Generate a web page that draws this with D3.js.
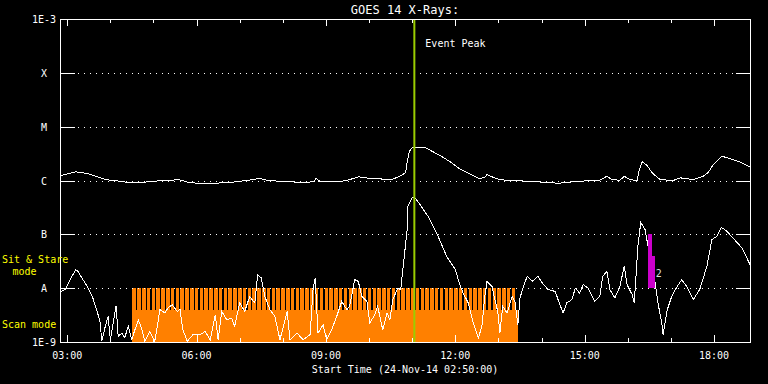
<!DOCTYPE html>
<html>
<head>
<meta charset="utf-8">
<script src="https://cdn.jsdelivr.net/npm/d3@7"></script>
<style>
  body { margin: 0; background: #000; }
  text { font-family: "DejaVu Sans Mono", monospace; fill: #fff; }
</style>
</head>
<body>
<svg id="chart"></svg>
<script>
// Chart size
const width = 768;
const height = 384;
const margin = { top: 19, right: 18, bottom: 42, left: 60 };

// GOES levels
const levelLabels = ["1E-9", "A", "B", "C", "M", "X", "1E-3"];
const levelValues = [1e-9, 1e-8, 1e-7, 1e-6, 1e-5, 1e-4, 1e-3];

// times are minutes after the start time (24-Nov-14 02:50:00)
const startTime = new Date(2014, 10, 24, 2, 50, 0);
const spanMinutes = 960;

// long channel (1-8 A), W/m^2
const longTimes = [0, 22, 39, 63, 83, 100, 121, 142, 166, 182, 217, 243, 267, 277, 288, 312, 333, 353, 356, 363,
  387, 403, 415, 434, 462, 473, 481, 483, 486, 490, 497, 508, 515, 529, 543, 556, 570, 584, 591, 594,
  601, 612, 630, 650, 666, 694, 723, 751, 761, 768, 779, 785, 793, 803, 806, 810, 817, 824, 835, 853,
  863, 881, 895, 902, 909, 921, 932, 946, 960];
const longFlux = [1.23e-6, 1.45e-6, 1.34e-6, 1.04e-6, 0.97e-6, 0.90e-6, 0.94e-6, 1.00e-6, 1.03e-6, 0.90e-6,
  0.89e-6, 0.94e-6, 1.03e-6, 1.10e-6, 1.01e-6, 0.95e-6, 0.93e-6, 0.94e-6, 1.10e-6, 0.94e-6,
  0.94e-6, 1.04e-6, 1.17e-6, 1.08e-6, 1.05e-6, 1.20e-6, 1.40e-6, 2.24e-6, 3.44e-6, 4.09e-6,
  4.14e-6, 4.14e-6, 3.64e-6, 2.90e-6, 2.22e-6, 1.64e-6, 1.33e-6, 1.08e-6, 1.15e-6, 1.29e-6,
  1.17e-6, 1.03e-6, 1.00e-6, 0.97e-6, 0.94e-6, 0.89e-6, 0.97e-6, 1.01e-6, 1.20e-6, 1.04e-6,
  1.01e-6, 1.20e-6, 1.04e-6, 1.00e-6, 1.60e-6, 2.22e-6, 1.89e-6, 1.38e-6, 1.04e-6, 1.00e-6,
  1.12e-6, 1.04e-6, 1.20e-6, 1.42e-6, 1.98e-6, 2.82e-6, 2.55e-6, 2.22e-6, 1.79e-6];

// short channel (0.5-4 A), W/m^2
const shortTimes = [1, 7, 14, 22, 25, 32, 39, 45, 51, 56, 58, 63, 67, 70, 78, 81, 86, 90, 95, 100,
  102, 109, 114, 118, 125, 132, 139, 146, 150, 156, 163, 167, 171, 177, 185, 195, 202, 209, 216, 220,
  225, 232, 239, 243, 250, 257, 264, 271, 275, 280, 285, 292, 299, 306, 316, 320, 330, 338, 348, 352,
  355, 359, 366, 371, 378, 385, 392, 399, 403, 410, 415, 420, 427, 431, 438, 442, 449, 455, 459, 463,
  470, 474, 477, 483, 484, 490, 494, 501, 512, 525, 538, 550, 557, 561, 568, 575, 582, 587, 591, 594,
  601, 605, 609, 612, 616, 622, 629, 633, 637, 640, 644, 650, 657, 665, 671, 679, 689, 693, 700, 705,
  712, 717, 723, 728, 735, 744, 751, 755, 761, 765, 772, 779, 785, 789, 796, 799, 804, 808, 814, 819,
  824, 828, 832, 838, 839, 845, 851, 856, 865, 872, 881, 890, 900, 907, 914, 920, 928, 936, 949, 960];
const shortFlux = [8.7e-9, 9.4e-9, 1.44e-8, 2.21e-8, 2.05e-8, 1.44e-8, 1.02e-8, 7.0e-9, 4.0e-9, 2.29e-9,
  1.03e-9, 1.95e-9, 2.99e-9, 1.10e-9, 4.73e-9, 1.27e-9, 1.47e-9, 1.20e-9, 1.95e-9, 1.10e-9,
  1.37e-9, 2.59e-9, 1.69e-9, 1.03e-9, 1.57e-9, 1.03e-9, 4.0e-9, 3.46e-9, 4.28e-9, 4.93e-9,
  3.71e-9, 4.0e-9, 1.69e-9, 1.03e-9, 1.37e-9, 1.37e-9, 1.57e-9, 1.10e-9, 3.21e-9, 1.10e-9,
  3.71e-9, 2.59e-9, 2.79e-9, 1.95e-9, 5.31e-9, 3.71e-9, 7.0e-9, 5.31e-9, 1.78e-8, 1.55e-8,
  7.0e-9, 4.0e-9, 2.99e-9, 1.10e-9, 3.71e-9, 1.10e-9, 1.47e-9, 1.10e-9, 1.37e-9, 9.4e-9,
  1.55e-8, 1.47e-9, 2.09e-9, 1.10e-9, 1.69e-9, 2.99e-9, 5.69e-9, 4.0e-9, 4.59e-9, 1.44e-8,
  1.34e-8, 7.0e-9, 5.69e-9, 2.26e-9, 3.21e-9, 4.59e-9, 1.69e-9, 3.46e-9, 2.59e-9, 6.11e-9,
  1.0e-8, 9.4e-9, 2.21e-8, 1.22e-7, 3.32e-7, 4.88e-7, 4.75e-7, 3.56e-7, 2.16e-7, 9.9e-8,
  3.90e-8, 2.21e-8, 1.08e-8, 8.1e-9, 5.31e-9, 2.26e-9, 1.19e-9, 1.95e-9, 7.0e-9, 1.34e-8,
  1.08e-8, 6.11e-9, 3.71e-9, 1.47e-9, 4.59e-9, 3.46e-9, 7.0e-9, 5.69e-9, 2.09e-9, 6.58e-9,
  1.0e-8, 1.66e-8, 1.34e-8, 1.66e-8, 1.25e-8, 9.4e-9, 8.7e-9, 6.11e-9, 3.46e-9, 5.31e-9,
  6.11e-9, 1.0e-8, 8.1e-9, 1.16e-8, 1.0e-8, 5.69e-9, 7.0e-9, 1.66e-8, 2.05e-8, 9.4e-9,
  6.58e-9, 1.08e-8, 2.54e-8, 1.16e-8, 7.6e-9, 5.31e-9, 5.98e-8, 1.67e-7, 1.22e-7, 5.20e-8,
  2.21e-8, 1.25e-8, 5.31e-9, 1.95e-9, 1.37e-9, 4.0e-9, 7.0e-9, 9.4e-9, 1.44e-8, 1.08e-8,
  6.11e-9, 9.4e-9, 2.54e-8, 7.98e-8, 9.2e-8, 1.35e-7, 1.14e-7, 8.6e-8, 5.58e-8, 2.74e-8];

// instrument mode timeline (minutes), scan window and sit & stare breaks
const scanStart = 100;
const scanEnd = 637;
const scanLevel = 4e-9;
const stareLevel = 1e-8;
const gapStarts = [105.7, 112.4, 119.1, 125.7, 132.4, 139.1, 145.8, 152.5, 159.1, 165.8,
  172.5, 179.2, 185.9, 192.5, 199.2, 205.9, 212.6, 219.3, 225.9, 232.6,
  239.3, 246.0, 252.7, 259.3, 266.0, 272.7, 279.4, 286.1, 292.7, 299.4,
  306.1, 312.8, 319.5, 326.1, 332.8, 339.5, 346.2, 352.9, 359.5, 366.2,
  372.9, 379.6, 386.3, 392.9, 399.6, 406.3, 413.0, 419.7, 426.3, 433.0,
  439.7, 446.4, 453.1, 459.7, 466.4, 473.1, 479.8, 486.5, 493.1, 499.8,
  506.5, 513.2, 519.9, 526.5, 533.2, 539.9, 546.6, 553.3, 559.9, 566.6,
  573.3, 580.0, 586.7, 593.3, 600.0, 606.7, 613.4, 620.1, 626.7, 633.4];
const gapLength = 1.8;

// event peak and flare marker
const eventPeak = 493;
const flareBars = [
  { t0: 818, t1: 823, top: 1e-7 },
  { t0: 818, t1: 828, top: 4e-8 }
];
const flareLabel = { t: 829, flux: 1.6e-8, text: "2" };

const toDate = m => new Date(startTime.getTime() + m * 60000);

// Scales
const x = d3.scaleTime()
  .domain([startTime, toDate(spanMinutes)])
  .range([margin.left, width - margin.right]);
const y = d3.scaleLog()
  .domain([1e-9, 1e-3])
  .range([height - margin.bottom, margin.top])
  .clamp(true);

const svg = d3.select("#chart")
  .attr("width", width)
  .attr("height", height)
  .style("background", "#000");

const x0 = margin.left, x1 = width - margin.right;
const yTop = margin.top, yBot = height - margin.bottom;

// mode band
const band = svg.append("g").attr("fill", "#ff8000").attr("shape-rendering", "crispEdges");
band.append("rect")
  .attr("x", x(toDate(scanStart)))
  .attr("width", x(toDate(scanEnd)) - x(toDate(scanStart)))
  .attr("y", y(scanLevel))
  .attr("height", yBot - y(scanLevel));

const segs = [];
let s0 = scanStart;
gapStarts.forEach(g => { segs.push([s0, g]); s0 = g + gapLength; });
band.selectAll(".seg")
  .data(segs)
  .enter().append("rect")
  .attr("class", "seg")
  .attr("x", d => Math.round(x(toDate(d[0]))))
  .attr("width", d => Math.round(x(toDate(d[1]))) - Math.round(x(toDate(d[0]))))
  .attr("y", y(stareLevel))
  .attr("height", y(scanLevel) - y(stareLevel) + 1);

// level grid: ticks on both sides, dotted between
const levels = svg.append("g").attr("stroke", "#fff").attr("shape-rendering", "crispEdges");
const inner = levelValues.slice(1, -1);
inner.forEach(v => {
  const yy = Math.round(y(v)) + 0.5;
  levels.append("line").attr("x1", x0).attr("x2", x0 + 15).attr("y1", yy).attr("y2", yy);
  levels.append("line").attr("x1", x1 - 14).attr("x2", x1).attr("y1", yy).attr("y2", yy);
  levels.append("line").attr("x1", x0 + 18).attr("x2", x1 - 15).attr("y1", yy).attr("y2", yy)
    .attr("stroke-dasharray", "1,5");
});

// curves
const line = d3.line()
  .x(d => x(toDate(d[0])))
  .y(d => y(d[1]));

svg.append("path")
  .datum(longTimes.map((t, i) => [t, longFlux[i]]))
  .attr("d", line)
  .attr("fill", "none")
  .attr("stroke", "#fff")
  .attr("stroke-width", 1)
  .attr("shape-rendering", "crispEdges");

svg.append("path")
  .datum(shortTimes.map((t, i) => [t, shortFlux[i]]))
  .attr("d", line)
  .attr("fill", "none")
  .attr("stroke", "#fff")
  .attr("stroke-width", 1)
  .attr("shape-rendering", "crispEdges");

// event peak line
svg.append("line")
  .attr("x1", x(toDate(eventPeak))).attr("x2", x(toDate(eventPeak)))
  .attr("y1", yTop).attr("y2", yBot)
  .attr("stroke", "#9acd00")
  .attr("stroke-width", 2);

svg.append("text")
  .attr("x", x(toDate(eventPeak)) + 11)
  .attr("y", 47)
  .style("font-size", "10px")
  .text("Event Peak");

// flare marker
svg.selectAll(".flare")
  .data(flareBars)
  .enter().append("rect")
  .attr("class", "flare")
  .attr("x", d => x(toDate(d.t0)))
  .attr("width", d => x(toDate(d.t1)) - x(toDate(d.t0)))
  .attr("y", d => y(d.top))
  .attr("height", d => y(stareLevel) - y(d.top))
  .attr("fill", "#cc00cc")
  .attr("shape-rendering", "crispEdges");

svg.append("text")
  .attr("x", x(toDate(flareLabel.t)))
  .attr("y", y(flareLabel.flux))
  .style("font-size", "10px")
  .style("fill", "#ddd")
  .text(flareLabel.text);

// frame
svg.append("rect")
  .attr("x", x0 + 0.5).attr("y", yTop + 0.5)
  .attr("width", x1 - x0).attr("height", yBot - yTop)
  .attr("fill", "none").attr("stroke", "#fff")
  .attr("shape-rendering", "crispEdges");

// time ticks, top and bottom
const hours = x.ticks(d3.timeHour.every(1));
const tk = svg.append("g").attr("stroke", "#fff").attr("shape-rendering", "crispEdges");
hours.forEach(h => {
  const xx = Math.round(x(h)) + 0.5;
  const len = h.getHours() % 3 === 0 ? 7 : 4;
  tk.append("line").attr("x1", xx).attr("x2", xx).attr("y1", yTop).attr("y2", yTop + len);
  tk.append("line").attr("x1", xx).attr("x2", xx).attr("y1", yBot).attr("y2", yBot - len);
});

svg.selectAll(".xlabel")
  .data(hours.filter(h => h.getHours() % 3 === 0))
  .enter().append("text")
  .attr("class", "xlabel")
  .attr("x", d => x(d))
  .attr("y", 359)
  .attr("text-anchor", "middle")
  .style("font-size", "10px")
  .text(d3.timeFormat("%H:%M"));

// level labels
svg.selectAll(".ylabel")
  .data(levelValues)
  .enter().append("text")
  .attr("class", "ylabel")
  .attr("x", 44)
  .attr("y", d => y(d) + 4)
  .attr("text-anchor", "middle")
  .style("font-size", "10px")
  .text((d, i) => levelLabels[i]);

// mode labels
svg.append("text").attr("x", 2).attr("y", 263)
  .style("font-size", "10px").style("fill", "#ffff00").text("Sit & Stare");
svg.append("text").attr("x", 24.5).attr("y", 275).attr("text-anchor", "middle")
  .style("font-size", "10px").style("fill", "#ffff00").text("mode");
svg.append("text").attr("x", 2).attr("y", 328)
  .style("font-size", "10px").style("fill", "#ffff00").text("Scan mode");

// titles
svg.append("text")
  .attr("x", (x0 + x1) / 2).attr("y", 14)
  .attr("text-anchor", "middle")
  .style("font-size", "12px")
  .text("GOES 14 X-Rays:");

svg.append("text")
  .attr("x", (x0 + x1) / 2).attr("y", 373)
  .attr("text-anchor", "middle")
  .style("font-size", "10px")
  .text("Start Time (24-Nov-14 02:50:00)");
</script>
</body>
</html>
